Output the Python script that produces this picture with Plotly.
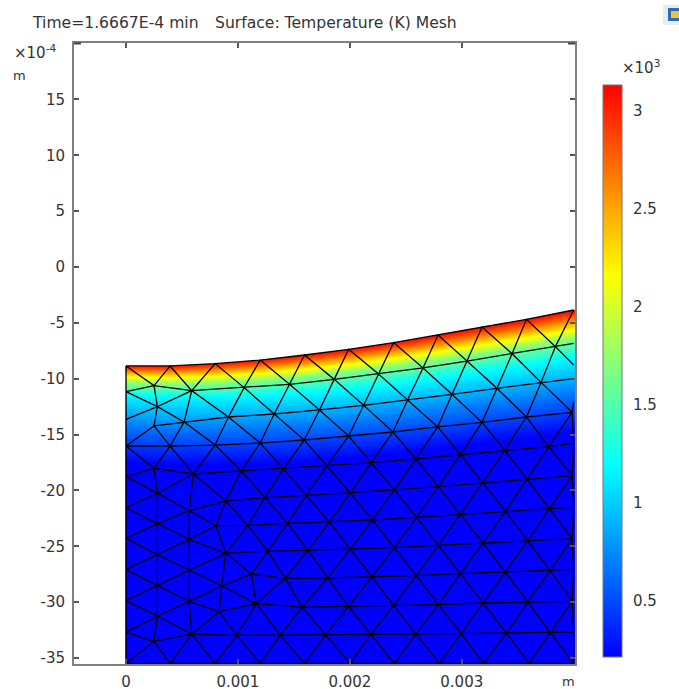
import numpy as np
import plotly.graph_objects as go

# ---- mesh nodes: x in units of 1e-3 m, y in units of 1e-4 m ----
A_x = [0, .394, .796, 1.199, 1.595, 1.989, 2.391, 2.788, 3.181, 3.578, 4.0]
A_y = [-8.86, -8.86, -8.65, -8.33, -7.88, -7.37, -6.77, -6.09, -5.37, -4.69, -3.85]
B_x = [0, .250, .587, 1.055, 1.461, 1.860, 2.257, 2.654, 3.047, 3.450, 3.837, 4.0]
B_y = [-11.16, -10.62, -11.07, -10.80, -10.50, -10.06, -9.58, -9.04, -8.42, -7.76, -7.13, -6.83]
E_x = [.280]
E_y = [-12.50]
C_x = [0, .250, .519, .915, 1.324, 1.729, 2.123, 2.516, 2.913, 3.315, 3.709, 4.0]
C_y = [-13.64, -14.23, -13.88, -13.43, -13.16, -12.80, -12.38, -11.91, -11.40, -10.86, -10.33, -10.00]
D_x = [0, .394, .796, 1.199, 1.592, 1.989, 2.385, 2.785, 3.181, 3.578, 3.986]
D_y = [-16.03, -16.03, -15.94, -15.76, -15.49, -15.13, -14.77, -14.32, -13.91, -13.43, -13.01]
F_x = [0, .250, .602, 1.029, 1.407, 1.795, 2.191, 2.591, 2.987, 3.384, 3.778, 4.0]
F_y = [-18.77, -18.02, -18.53, -18.26, -18.08, -17.82, -17.52, -17.19, -16.80, -16.41, -16.08, -15.79]
G_x = [.280, .564, .891, 1.243, 1.610, 2.004, 2.397, 2.791, 3.187, 3.584, 3.986]
G_y = [-20.26, -21.81, -20.95, -20.65, -20.44, -20.23, -19.96, -19.67, -19.31, -19.01, -18.68]
H_x = [.280, .564, .805, 1.088, 1.443, 1.816, 2.203, 2.597, 2.987, 3.390, 3.784, 4.0]
H_y = [-22.98, -24.38, -23.16, -23.13, -22.95, -22.83, -22.65, -22.41, -22.14, -21.87, -21.64, -21.52]
J_x = [.280, .566, .891, 1.267, 1.625, 2.004, 2.397, 2.791, 3.190, 3.590, 3.986]
J_y = [-25.75, -27.13, -25.63, -25.43, -25.37, -25.25, -25.13, -24.92, -24.71, -24.50, -24.32]
K_x = [.280, .564, .856, 1.121, 1.422, 1.804, 2.197, 2.594, 2.987, 3.390, 3.790, 4.0]
K_y = [-28.53, -29.93, -28.56, -27.48, -27.87, -27.84, -27.75, -27.63, -27.45, -27.31, -27.19, -27.07]
M_x = [.280, .587, .832, 1.163, 1.574, 1.989, 2.391, 2.791, 3.190, 3.590, 3.986]
M_y = [-31.24, -32.86, -30.86, -30.14, -30.44, -30.38, -30.32, -30.23, -30.08, -29.99, -29.93]
N_x = [.250]
N_y = [-33.51]
P_x = [.990, 1.377, 1.783, 2.188, 2.591, 2.993, 3.399, 3.792, 4.0]
P_y = [-32.98, -32.95, -32.95, -32.89, -32.86, -32.80, -32.77, -32.74, -32.68]
Q_x = [0, .394, .796, 1.199, 1.595, 2.004, 2.397, 2.800, 3.196, 3.599, 4.0]
Q_y = [-35.48] * 11
W_x = [0, 0, 0, 0, 0, 0, 0]
W_y = [-18.77, -21.55, -24.29, -27.07, -29.87, -32.71, -35.48]
R_x = [4.0, 4.0]
R_y = [-8.77, -12.06]

# ---- mesh connectivity ----
chains = [
    "A0 A1 A2 A3 A4 A5 A6 A7 A8 A9 A10",
    "B0 B1 B2 B3 B4 B5 B6 B7 B8 B9 B10 B11",
    "C1 C2 C3 C4 C5 C6 C7 C8 C9 C10 C11",
    "D0 D1 D2 D3 D4 D5 D6 D7 D8 D9 D10",
    "F0 F1 F2 F3 F4 F5 F6 F7 F8 F9 F10 F11",
    "G2 G3 G4 G5 G6 G7 G8 G9 G10",
    "H2 H3 H4 H5 H6 H7 H8 H9 H10 H11",
    "J2 J3 J4 J5 J6 J7 J8 J9 J10",
    "K3 K4 K5 K6 K7 K8 K9 K10 K11",
    "M3 M4 M5 M6 M7 M8 M9 M10",
    "M1 P2 P3 P4 P5 P6 P7 P8 P9 P10",
    "Q0 Q1 Q2 Q3 Q4 Q5 Q6 Q7 Q8 Q9 Q10",
    "A0 B0 C0 D0 F0 W1 W2 W3 W4 W5 W6",
    # zig-zags between rows
    "A0 B1 A1 B2 A2 B3 A3 B4 A4 B5 A5 B6 A6 B7 A7 B8 A8 B9 A9 B10 A10",
    "B0 E0 B1", "B2 E0 C0", "E0 C1", "E0 C2 B2 C3 B3 C4 B4 C5 B5 C6 B6 C7 B7 C8 B8 C9 B9 C10 B10 R1",
    "D0 C1 D1 C2 D2 C3 D3 C4 D4 C5 D5 C6 D6 C7 D7 C8 D8 C9 D9 C10 D10 R2",
    "D0 F1 D1 F2 D2 F3 D3 F4 D4 F5 D5 F6 D6 F7 D7 F8 D8 F9 D9 F10 D10 F11",
    "F0 G0 F1", "F2 G0 W1", "G0 G1 F2 G2 F3 G3 F4 G4 F5 G5 F6 G6 F7 G7 F8 G8 F9 G9 F10 G10 F11",
    "G1 G2", "W1 H0 G0", "G1 H0 W2", "H0 H1 G1 H2 H1", "G2 H2", "G2 H3 G3 H4 G4 H5 G5 H6 G6 H7 G7 H8 G8 H9 G9 H10 G10 H11",
    "W2 J0 H0", "H1 J0 W3", "J0 J1 H1 J2 J1", "H2 J2 H3 J3 H4 J4 H5 J5 H6 J6 H7 J7 H8 J8 H9 J9 H10 J10 H11",
    "W3 K0 J0", "J1 K0 W4", "K0 K1 J1 K2 K1", "J2 K2 K3 J2", "K3 J3 K4 J4 K5 J5 K6 J6 K7 J7 K8 J8 K9 J9 K10 J10 K11",
    "W4 M0 K0", "K1 M0 W5", "M0 M1 K1 M2 K2 M3 K3", "M2 M3 K4 M4 K5 M5 K6 M6 K7 M7 K8 M8 K9 M9 K10 M10 K11",
    "W5 N0 M0", "N0 M1", "N0 W6", "N0 Q1 M1 Q2", "M1 M2 P2 M3 P3 M4 P4 M5 P5 M6 P6 M7 P7 M8 P8 M9 P9 M10 P10",
    "P2 Q2", "P2 Q3 P3 Q4 P4 Q5 P5 Q6 P6 Q7 P7 Q8 P8 Q9 P9 Q10 P10",
]

# ---- temperature field: depth below the surface of each isotherm, read at x = 0, 2, 4 ----
iso_T = [3133, 2150, 1665, 1180, 700, 420, 212]
iso_x = [0, 2, 4]
depth_x0 = [0, 0.99, 1.70, 2.60, 5.20, 7.08, 8.60]
depth_x2 = [0, 1.40, 2.12, 3.64, 6.33, 8.21, 9.73]
depth_x4 = [0, 1.79, 2.69, 4.30, 7.34, 9.31, 10.92]

T_min, T_max = 212, 3133
cb_ticks = [500, 1000, 1500, 2000, 2500, 3000]
cb_labels = ["0.5", "1", "1.5", "2", "2.5", "3"]
x_ticks = [0, 1, 2, 3]
x_labels = ["0", "0.001", "0.002", "0.003"]
y_ticks = [15, 10, 5, 0, -5, -10, -15, -20, -25, -30, -35]
y_labels = ["15", "10", "5", "0", "-5", "-10", "-15", "-20", "-25", "-30", "-35"]

# ---- build mesh line trace ----
nodes = {}
for name, start, xs, ys in [("A", 0, A_x, A_y), ("B", 0, B_x, B_y), ("E", 0, E_x, E_y), ("C", 0, C_x, C_y),
                            ("D", 0, D_x, D_y), ("F", 0, F_x, F_y), ("G", 0, G_x, G_y), ("H", 0, H_x, H_y),
                            ("J", 0, J_x, J_y), ("K", 0, K_x, K_y), ("M", 0, M_x, M_y), ("N", 0, N_x, N_y),
                            ("P", 2, P_x, P_y), ("Q", 0, Q_x, Q_y), ("W", 0, W_x, W_y), ("R", 1, R_x, R_y)]:
    for i, (a, b) in enumerate(zip(xs, ys)):
        nodes[f"{name}{i + start}"] = (a, b)

mesh_x, mesh_y = [], []
for chain in chains:
    for n in chain.split():
        mesh_x.append(nodes[n][0])
        mesh_y.append(nodes[n][1])
    mesh_x.append(None)
    mesh_y.append(None)

# ---- build temperature grid ----
gx = np.arange(0, 4.0101, 0.01)
gy = np.arange(-35.48, -3.8, 0.09)
Z = np.full((gy.size, gx.size), np.nan)
dtab = np.array([depth_x0, depth_x2, depth_x4])
for j, x in enumerate(gx):
    surf = np.interp(x, A_x, A_y)
    dep = [np.interp(x, iso_x, dtab[:, k]) for k in range(len(iso_T))]
    below = gy <= surf
    Z[below, j] = np.interp(surf - gy[below], dep, iso_T)

fig = go.Figure()
fig.add_trace(go.Heatmap(
    x=gx, y=gy, z=Z, zmin=T_min, zmax=T_max, hoverongaps=False,
    colorscale=[[0, "rgb(0,0,255)"], [1 / 3, "rgb(0,255,255)"], [2 / 3, "rgb(255,255,0)"], [1, "rgb(255,0,0)"]],
    colorbar=dict(
        x=(603 - 74) / 501, xanchor="left", xpad=0, thickness=19, thicknessmode="pixels",
        y=(664 - 657) / 621, yanchor="bottom", ypad=0, len=(657 - 85) / 621, lenmode="fraction",
        outlinecolor="#777777", outlinewidth=1,
        tickvals=cb_ticks, ticktext=cb_labels, ticks="outside", ticklen=8, tickwidth=1,
        tickcolor="rgba(0,0,0,0)",
        tickfont=dict(family="DejaVu Sans", size=15, color="#333333"),
    ),
))
fig.add_trace(go.Scatter(x=mesh_x, y=mesh_y, mode="lines", line=dict(color="black", width=1.3),
                         hoverinfo="skip", showlegend=False, connectgaps=False))

spine = "#808080"
font = dict(family="DejaVu Sans", size=15, color="#333333")
fig.update_xaxes(range=[-0.465, 4.012], tickmode="array", tickvals=x_ticks, ticktext=x_labels, ticks="inside",
                 ticklen=5, tickwidth=1.5, tickcolor="#555555", showgrid=False, zeroline=False, showline=True,
                 linecolor=spine, linewidth=2, mirror="ticks", tickfont=font, ticklabelstandoff=3, tickangle=0,
                 automargin=False)
fig.update_yaxes(range=[-35.54, 20.05], tickmode="array", tickvals=y_ticks, ticktext=y_labels, ticks="inside",
                 ticklen=5, tickwidth=1.5, tickcolor="#555555", showgrid=False, zeroline=False, showline=True,
                 linecolor=spine, linewidth=2, mirror="ticks", tickfont=font, ticklabelstandoff=4, automargin=False)


def px(v):
    return (v - 74) / 501


def py(v):
    return (664 - v) / 621


def label(text, x, y, anchor="left", size=15):
    fig.add_annotation(text=text, xref="paper", yref="paper", x=px(x), y=py(y), xanchor=anchor, yanchor="middle",
                       showarrow=False, font=dict(family="DejaVu Sans", size=size, color="#333333"))


label("Time=1.6667E-4 min", 30, 23, size=15.6)
label("Surface: Temperature (K) Mesh", 213, 23, size=15.6)
label("×10<sup>-4</sup>", 12, 52)
label("m", 11, 75, size=13)
label("m", 560, 682, size=13)
label("×10<sup>3</sup>", 620, 67)

shapes = []
for t in cb_ticks:
    yy = 657 - (t - T_min) / (T_max - T_min) * (657 - 85)
    for a, b in [(603, 607), (618, 622)]:
        shapes.append(dict(type="line", xref="paper", yref="paper", x0=px(a), x1=px(b), y0=py(yy), y1=py(yy),
                           line=dict(color="#444444", width=1.5)))
# short corner ticks at the top of the axis box
shapes.append(dict(type="line", xref="paper", yref="paper", x0=px(74), x1=px(81), y0=py(43.5), y1=py(43.5),
                   line=dict(color="#444444", width=2)))
shapes.append(dict(type="line", xref="paper", yref="paper", x0=px(568), x1=px(575), y0=py(43.5), y1=py(43.5),
                   line=dict(color="#444444", width=2)))
# small application badge at the top-right corner
shapes.append(dict(type="rect", xref="paper", yref="paper", x0=px(663), x1=px(680), y0=py(5), y1=py(25),
                   fillcolor="#e8ecef", line=dict(width=0)))
shapes.append(dict(type="rect", xref="paper", yref="paper", x0=px(668), x1=px(680), y0=py(8), y1=py(21),
                   fillcolor="#2a6db5", line=dict(width=0)))
shapes.append(dict(type="rect", xref="paper", yref="paper", x0=px(671), x1=px(679), y0=py(11), y1=py(18),
                   fillcolor="#e8c838", line=dict(width=0)))

fig.update_layout(width=679, height=689, autosize=False, margin=dict(l=74, r=104, t=43, b=25),
                  paper_bgcolor="white", plot_bgcolor="white", showlegend=False, shapes=shapes)

fig.write_html("out.html", config={"displayModeBar": False},
               post_script="document.body.style.margin='0';document.body.style.overflow='hidden';")
